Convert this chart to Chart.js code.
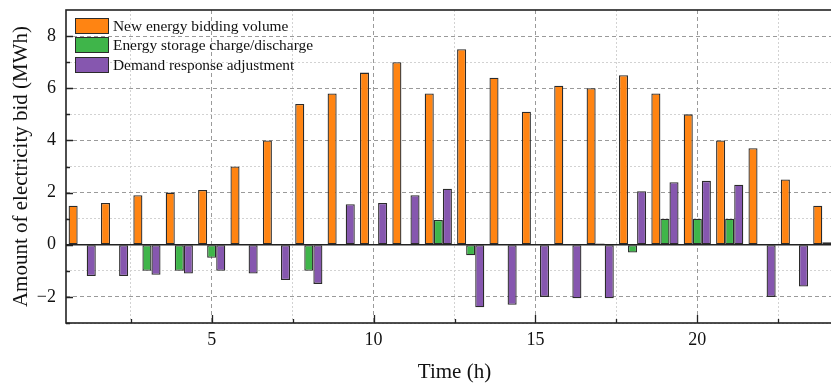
<!DOCTYPE html>
<html>
<head>
<meta charset="utf-8">
<script src="https://cdn.jsdelivr.net/npm/chart.js@4.4.0/dist/chart.umd.min.js"></script>
<style>
  html, body { margin: 0; padding: 0; overflow: hidden; background: #fff; }
  #wrap { position: relative; width: 850px; height: 385px; }
  #legend { position: absolute; left: 75px; top: 16px; font-family: "Liberation Serif", serif; font-size: 15.4px; color: #111; }
  .item { display: flex; align-items: center; height: 19.5px; }
  .box { box-sizing: border-box; width: 34px; height: 16px; border: 1.4px solid #2b2b2b; margin-right: 4px; }
</style>
</head>
<body>
<div id="wrap">
  <canvas id="chart"></canvas>
  <div id="legend"></div>
</div>
<script>
const hours = [1, 2, 3, 4, 5, 6, 7, 8, 9, 10, 11, 12, 13, 14, 15, 16, 17, 18, 19, 20, 21, 22, 23, 24]
const newEnergy = [1.5, 1.6, 1.9, 2.0, 2.1, 3.0, 4.0, 5.4, 5.8, 6.6, 7.0, 5.8, 7.5, 6.4, 5.1, 6.1, 6.0, 6.5, 5.8, 5.0, 4.0, 3.7, 2.5, 1.5]
const storage = [0, 0, -1.0, -1.0, -0.5, 0, -0.03, -1.0, 0, 0, 0, 0.95, -0.4, 0, 0, 0, 0.05, -0.3, 1.0, 1.0, 1.0, 0, 0, 0.1]
const demand = [-1.2, -1.2, -1.15, -1.1, -1.0, -1.1, -1.35, -1.5, 1.55, 1.6, 1.9, 2.15, -2.4, -2.3, -2.0, -2.05, -2.05, 2.05, 2.4, 2.45, 2.3, -2.0, -1.6, -1.3]

const seriesNames = ['New energy bidding volume', 'Energy storage charge/discharge', 'Demand response adjustment']
const seriesColors = ['#FF8412', '#3FB54A', '#8657AF']

const xTicks = [5, 10, 15, 20]
const xMinorTicks = [2.5, 7.5, 12.5, 17.5, 22.5]
const yTicks = [-2, 0, 2, 4, 6, 8]
const yMinorTicks = [-3, -1, 1, 3, 5, 7]

Chart.defaults.font.family = '"Liberation Serif", "Times New Roman", serif'
Chart.defaults.color = '#111'

// frame, zero line and inward tick marks
const frame = {
  id: 'frame',
  afterDatasetsDraw(chart) {
    const {ctx, chartArea: a, scales} = chart
    ctx.save()
    ctx.strokeStyle = '#222'
    ctx.lineWidth = 1.3
    const y0 = scales.y.getPixelForValue(0)
    ctx.beginPath()
    ctx.moveTo(a.left, y0)
    ctx.lineTo(a.right, y0)
    ctx.stroke()
    ctx.beginPath()
    xTicks.concat(xMinorTicks).forEach(v => {
      const px = Math.round(scales.x.getPixelForValue(v)) + 0.5
      const len = xTicks.includes(v) ? 8 : 4
      ctx.moveTo(px, a.bottom)
      ctx.lineTo(px, a.bottom - len)
    })
    yTicks.concat(yMinorTicks).forEach(v => {
      const py = Math.round(scales.y.getPixelForValue(v)) + 0.5
      const len = yTicks.includes(v) ? 7 : 4
      ctx.moveTo(a.left, py)
      ctx.lineTo(a.left + len, py)
    })
    ctx.stroke()
    ctx.lineWidth = 1.6
    ctx.strokeRect(a.left, a.top, a.right - a.left, a.bottom - a.top)
    ctx.restore()
  }
}

const noPad = s => { s.paddingTop = 0; s.paddingBottom = 0; s.paddingLeft = 0; s.paddingRight = 0 }

const makeSet = (i, values) => ({
  label: seriesNames[i],
  data: values,
  backgroundColor: seriesColors[i],
  borderColor: '#2b2b2b',
  borderWidth: 1.3,
  borderSkipped: false,
  categoryPercentage: 0.84,
  barPercentage: 1.0,
  xAxisID: 'x',
  yAxisID: 'y'
})

const config = {
  type: 'bar',
  data: {
    labels: hours,
    datasets: [makeSet(0, newEnergy), makeSet(1, storage), makeSet(2, demand)]
  },
  options: {
    responsive: true,
    maintainAspectRatio: false,
    animation: false,
    layout: { padding: { top: 10, right: 7, left: 0, bottom: 0 } },
    plugins: { legend: { display: false }, tooltip: { enabled: false } },
    scales: {
      x: {
        type: 'linear',
        position: 'bottom',
        offset: false,
        min: 0.5,
        max: 24.5,
        afterBuildTicks: s => { s.ticks = xTicks.map(v => ({ value: v })) },
        afterFit: s => { s.height = 62; noPad(s) },
        ticks: { font: { size: 18 }, padding: 6, maxRotation: 0 },
        grid: { offset: false, color: '#9a9a9a', lineWidth: 1, drawTicks: false },
        border: { display: false, dash: [4, 3] },
        title: { display: true, text: 'Time (h)', font: { size: 21 }, padding: { top: 0, bottom: 0 } }
      },
      xMinor: {
        type: 'linear',
        position: 'bottom',
        offset: false,
        min: 0.5,
        max: 24.5,
        afterBuildTicks: s => { s.ticks = xMinorTicks.map(v => ({ value: v })) },
        afterFit: s => { s.height = 0; noPad(s) },
        ticks: { display: false },
        grid: { offset: false, color: '#d2d2d2', lineWidth: 1, drawTicks: false },
        border: { display: false, dash: [2, 2] }
      },
      y: {
        type: 'linear',
        min: -3,
        max: 9,
        afterBuildTicks: s => { s.ticks = yTicks.map(v => ({ value: v })) },
        afterFit: s => { s.width = 66; noPad(s) },
        ticks: {
          font: { size: 18 },
          padding: 10,
          callback: v => v < 0 ? '\u2212' + Math.abs(v) : String(v)
        },
        grid: { color: '#9a9a9a', lineWidth: 1, drawTicks: false },
        border: { display: false, dash: [4, 3] },
        title: { display: true, text: 'Amount of electricity bid (MWh)', font: { size: 21 }, padding: { top: 9, bottom: 0 } }
      },
      yMinor: {
        type: 'linear',
        position: 'left',
        min: -3,
        max: 9,
        afterBuildTicks: s => { s.ticks = yMinorTicks.map(v => ({ value: v })) },
        afterFit: s => { s.width = 0; noPad(s) },
        ticks: { display: false },
        grid: { color: '#d2d2d2', lineWidth: 1, drawTicks: false },
        border: { display: false, dash: [2, 2] }
      }
    }
  },
  plugins: [frame]
}

const legend = document.querySelector('#legend')
seriesNames.forEach((name, i) => {
  const row = document.createElement('div')
  row.className = 'item'
  const box = document.createElement('span')
  box.className = 'box'
  box.style.backgroundColor = seriesColors[i]
  const txt = document.createElement('span')
  txt.innerText = name
  row.appendChild(box)
  row.appendChild(txt)
  legend.appendChild(row)
})

const grafico = new Chart(document.getElementById('chart'), config)
</script>
</body>
</html>
